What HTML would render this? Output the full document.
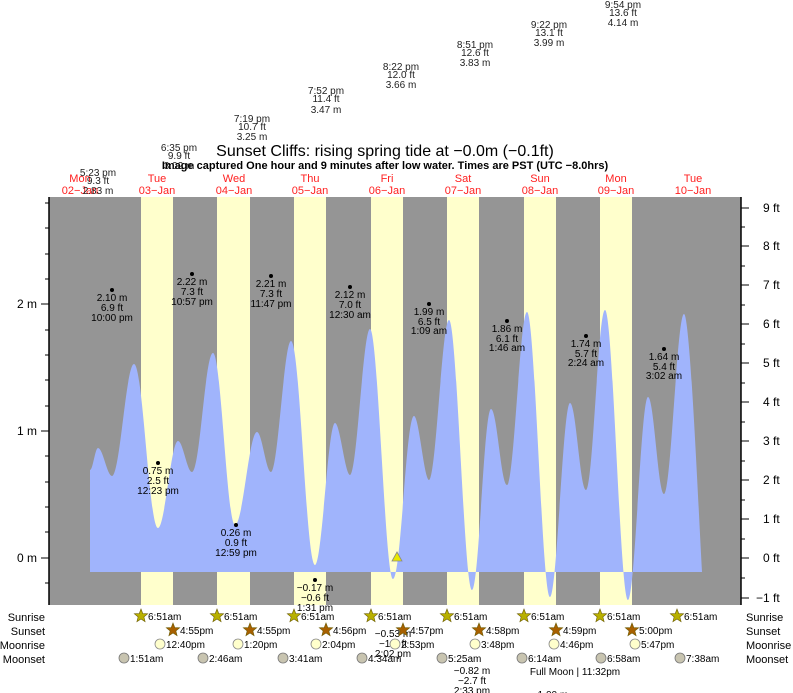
<!DOCTYPE html>
<html><head><meta charset="utf-8"><style>
body{margin:0;background:#fff}
svg{display:block;font-family:"Liberation Sans",sans-serif}
</style></head><body>
<svg width="793" height="693" viewBox="0 0 793 693">
<rect x="49" y="197" width="692" height="408" fill="#959595"/>
<g fill="#ffffcc">
<rect x="141" y="197" width="32" height="408"/><rect x="217" y="197" width="33" height="408"/>
<rect x="294" y="197" width="32" height="408"/><rect x="371" y="197" width="32" height="408"/>
<rect x="447" y="197" width="32" height="408"/><rect x="524" y="197" width="32" height="408"/>
<rect x="600" y="197" width="32" height="408"/>
</g>
<path fill="#a0b4fc" d="M90,470 C93,470 95,448 98,448 C103,448 107,476 112,476 C120,476 126,364 134,364 C143,364 149,528 158,528 C165,528 171,441 178,441 C183,441 187,472 192,472 C200,472 205,353 213,353 C221,353 227,525 235,525 C243,525 249,432 257,432 C262,432 266,472 271,472 C278,472 284,341 291,341 C300,341 306,565 315,565 C322,565 328,423 335,423 C340,423 345,475 350,475 C357,475 363,329 370,329 C378,329 385,579 393,579 C401,579 406,416 414,416 C419,416 424,480 429,480 C436,480 442,320 449,320 C457,320 464,590 472,590 C479,590 484,409 491,409 C497,409 501,485 507,485 C514,485 520,312 527,312 C535,312 542,597 550,597 C557,597 563,403 570,403 C576,403 580,490 586,490 C593,490 598,310 605,310 C613,310 620,600 628,600 C635,600 641,397 648,397 C654,397 658,494 664,494 C671,494 677,314 684,314 C690,314 698,500 702,572 L90,572 Z"/>
<g stroke="#000" stroke-width="1.5">
<line x1="49" y1="197" x2="49" y2="605"/><line x1="741" y1="197" x2="741" y2="605"/>
</g>
<g stroke="#000" stroke-width="1">
<line x1="41" y1="304" x2="49" y2="304"/><line x1="41" y1="431" x2="49" y2="431"/><line x1="41" y1="558" x2="49" y2="558"/>
<line x1="45" y1="583" x2="49" y2="583"/><line x1="45" y1="532" x2="49" y2="532"/><line x1="45" y1="507" x2="49" y2="507"/><line x1="45" y1="482" x2="49" y2="482"/><line x1="45" y1="456" x2="49" y2="456"/>
<line x1="45" y1="406" x2="49" y2="406"/><line x1="45" y1="380" x2="49" y2="380"/><line x1="45" y1="355" x2="49" y2="355"/><line x1="45" y1="330" x2="49" y2="330"/>
<line x1="45" y1="279" x2="49" y2="279"/><line x1="45" y1="254" x2="49" y2="254"/><line x1="45" y1="228" x2="49" y2="228"/><line x1="45" y1="203" x2="49" y2="203"/>
<line x1="741" y1="598" x2="749" y2="598"/><line x1="741" y1="558" x2="749" y2="558"/><line x1="741" y1="519" x2="749" y2="519"/><line x1="741" y1="480" x2="749" y2="480"/><line x1="741" y1="441" x2="749" y2="441"/><line x1="741" y1="402" x2="749" y2="402"/><line x1="741" y1="363" x2="749" y2="363"/><line x1="741" y1="324" x2="749" y2="324"/><line x1="741" y1="285" x2="749" y2="285"/><line x1="741" y1="246" x2="749" y2="246"/><line x1="741" y1="208" x2="749" y2="208"/>
<line x1="741" y1="578" x2="745" y2="578"/><line x1="741" y1="539" x2="745" y2="539"/><line x1="741" y1="500" x2="745" y2="500"/><line x1="741" y1="461" x2="745" y2="461"/><line x1="741" y1="422" x2="745" y2="422"/><line x1="741" y1="383" x2="745" y2="383"/><line x1="741" y1="344" x2="745" y2="344"/><line x1="741" y1="305" x2="745" y2="305"/><line x1="741" y1="266" x2="745" y2="266"/><line x1="741" y1="227" x2="745" y2="227"/>
</g>
<g font-size="12" text-anchor="end" fill="#000">
<text x="37" y="308">2 m</text><text x="37" y="435">1 m</text><text x="37" y="562">0 m</text>
</g>
<g font-size="12" fill="#000">
<text x="763" y="212">9 ft</text><text x="763" y="250">8 ft</text><text x="763" y="289">7 ft</text><text x="763" y="328">6 ft</text><text x="763" y="367">5 ft</text><text x="763" y="406">4 ft</text><text x="763" y="445">3 ft</text><text x="763" y="484">2 ft</text><text x="763" y="523">1 ft</text><text x="763" y="562">0 ft</text><text x="756" y="602">−1 ft</text>
</g>
<text x="385" y="156" font-size="16" text-anchor="middle">Sunset Cliffs: rising  spring tide at −0.0m (−0.1ft)</text>
<text x="385" y="169" font-size="11" font-weight="bold" text-anchor="middle">Image captured One hour and 9 minutes after low water. Times are PST (UTC −8.0hrs)</text>
<g font-size="11" fill="#ff2020" text-anchor="middle">
<text x="80" y="182">Mon</text><text x="80" y="194">02−Jan</text>
<text x="157" y="182">Tue</text><text x="157" y="194">03−Jan</text>
<text x="234" y="182">Wed</text><text x="234" y="194">04−Jan</text>
<text x="310" y="182">Thu</text><text x="310" y="194">05−Jan</text>
<text x="387" y="182">Fri</text><text x="387" y="194">06−Jan</text>
<text x="463" y="182">Sat</text><text x="463" y="194">07−Jan</text>
<text x="540" y="182">Sun</text><text x="540" y="194">08−Jan</text>
<text x="616" y="182">Mon</text><text x="616" y="194">09−Jan</text>
<text x="693" y="182">Tue</text><text x="693" y="194">10−Jan</text>
</g>
<g font-size="10" fill="#222" text-anchor="middle">
<text x="98" y="176">5:23 pm</text><text x="98" y="184">9.3 ft</text><text x="98" y="194">2.83 m</text>
<text x="179" y="151">6:35 pm</text><text x="179" y="159">9.9 ft</text><text x="179" y="169">3.02 m</text>
<text x="252" y="122">7:19 pm</text><text x="252" y="130">10.7 ft</text><text x="252" y="140">3.25 m</text>
<text x="326" y="94">7:52 pm</text><text x="326" y="102">11.4 ft</text><text x="326" y="113">3.47 m</text>
<text x="401" y="70">8:22 pm</text><text x="401" y="78">12.0 ft</text><text x="401" y="88">3.66 m</text>
<text x="475" y="48">8:51 pm</text><text x="475" y="56">12.6 ft</text><text x="475" y="66">3.83 m</text>
<text x="549" y="28">9:22 pm</text><text x="549" y="36">13.1 ft</text><text x="549" y="46">3.99 m</text>
<text x="623" y="8">9:54 pm</text><text x="623" y="16">13.6 ft</text><text x="623" y="26">4.14 m</text>
</g>
<g fill="#000"><circle cx="112" cy="290" r="2"/><circle cx="192" cy="274" r="2"/><circle cx="271" cy="276" r="2"/><circle cx="350" cy="287" r="2"/><circle cx="429" cy="304" r="2"/><circle cx="507" cy="321" r="2"/><circle cx="586" cy="336" r="2"/><circle cx="664" cy="349" r="2"/><circle cx="158" cy="463" r="2"/><circle cx="236" cy="525" r="2"/><circle cx="315" cy="580" r="2"/></g>
<g font-size="10" fill="#000" text-anchor="middle">
<text x="112" y="301">2.10 m</text><text x="112" y="311">6.9 ft</text><text x="112" y="321">10:00 pm</text>
<text x="192" y="285">2.22 m</text><text x="192" y="295">7.3 ft</text><text x="192" y="305">10:57 pm</text>
<text x="271" y="287">2.21 m</text><text x="271" y="297">7.3 ft</text><text x="271" y="307">11:47 pm</text>
<text x="350" y="298">2.12 m</text><text x="350" y="308">7.0 ft</text><text x="350" y="318">12:30 am</text>
<text x="429" y="315">1.99 m</text><text x="429" y="325">6.5 ft</text><text x="429" y="334">1:09 am</text>
<text x="507" y="332">1.86 m</text><text x="507" y="342">6.1 ft</text><text x="507" y="351">1:46 am</text>
<text x="586" y="347">1.74 m</text><text x="586" y="357">5.7 ft</text><text x="586" y="366">2:24 am</text>
<text x="664" y="360">1.64 m</text><text x="664" y="370">5.4 ft</text><text x="664" y="379">3:02 am</text>
<text x="158" y="474">0.75 m</text><text x="158" y="484">2.5 ft</text><text x="158" y="494">12:23 pm</text>
<text x="236" y="536">0.26 m</text><text x="236" y="546">0.9 ft</text><text x="236" y="556">12:59 pm</text>
<text x="315" y="591">−0.17 m</text><text x="315" y="601">−0.6 ft</text><text x="315" y="611">1:31 pm</text>
<text x="393" y="637">−0.53 m</text><text x="393" y="647">−1.7 ft</text><text x="393" y="657">2:02 pm</text>
<text x="472" y="674">−0.82 m</text><text x="472" y="684">−2.7 ft</text><text x="472" y="694">2:33 pm</text>
<text x="550" y="698">−1.00 m</text>
<text x="575" y="675">Full Moon | 11:32pm</text>
</g>
<polygon points="397,552 392,561 402,561" fill="#e8e800" stroke="#888" stroke-width="0.8"/>
<g font-size="11" fill="#000">
<g text-anchor="end"><text x="45" y="621">Sunrise</text><text x="45" y="635">Sunset</text><text x="45" y="649">Moonrise</text><text x="45" y="663">Moonset</text></g>
<text x="746" y="621">Sunrise</text><text x="746" y="635">Sunset</text><text x="746" y="649">Moonrise</text><text x="746" y="663">Moonset</text>
</g>
<defs>
<polygon id="st" points="0,-7 1.8,-2.4 6.7,-2.2 2.9,0.9 4.1,5.7 0,3 -4.1,5.7 -2.9,0.9 -6.7,-2.2 -1.8,-2.4" stroke="#6a5a00" stroke-width="0.6"/>
</defs>
<g fill="#b8b000">
<use href="#st" x="141" y="616"/><use href="#st" x="217" y="616"/><use href="#st" x="294" y="616"/><use href="#st" x="371" y="616"/><use href="#st" x="447" y="616"/><use href="#st" x="524" y="616"/><use href="#st" x="600" y="616"/><use href="#st" x="677" y="616"/>
</g>
<g fill="#a86000">
<use href="#st" x="173" y="630"/><use href="#st" x="250" y="630"/><use href="#st" x="326" y="630"/><use href="#st" x="403" y="630"/><use href="#st" x="479" y="630"/><use href="#st" x="556" y="630"/><use href="#st" x="632" y="630"/>
</g>
<g fill="#ffffcc" stroke="#888" stroke-width="0.8">
<circle cx="160" cy="644" r="5"/><circle cx="238" cy="644" r="5"/><circle cx="316" cy="644" r="5"/><circle cx="395" cy="644" r="5"/><circle cx="475" cy="644" r="5"/><circle cx="554" cy="644" r="5"/><circle cx="635" cy="644" r="5"/>
</g>
<g fill="#c8c4b0" stroke="#777" stroke-width="0.8">
<circle cx="124" cy="658" r="5"/><circle cx="203" cy="658" r="5"/><circle cx="283" cy="658" r="5"/><circle cx="362" cy="658" r="5"/><circle cx="442" cy="658" r="5"/><circle cx="522" cy="658" r="5"/><circle cx="601" cy="658" r="5"/><circle cx="680" cy="658" r="5"/>
</g>
<g font-size="10" fill="#000">
<text x="148" y="620">6:51am</text><text x="224" y="620">6:51am</text><text x="301" y="620">6:51am</text><text x="378" y="620">6:51am</text><text x="454" y="620">6:51am</text><text x="531" y="620">6:51am</text><text x="607" y="620">6:51am</text><text x="684" y="620">6:51am</text>
<text x="180" y="634">4:55pm</text><text x="257" y="634">4:55pm</text><text x="333" y="634">4:56pm</text><text x="410" y="634">4:57pm</text><text x="486" y="634">4:58pm</text><text x="563" y="634">4:59pm</text><text x="639" y="634">5:00pm</text>
<text x="166" y="648">12:40pm</text><text x="244" y="648">1:20pm</text><text x="322" y="648">2:04pm</text><text x="401" y="648">2:53pm</text><text x="481" y="648">3:48pm</text><text x="560" y="648">4:46pm</text><text x="641" y="648">5:47pm</text>
<text x="130" y="662">1:51am</text><text x="209" y="662">2:46am</text><text x="289" y="662">3:41am</text><text x="368" y="662">4:34am</text><text x="448" y="662">5:25am</text><text x="528" y="662">6:14am</text><text x="607" y="662">6:58am</text><text x="686" y="662">7:38am</text>
</g>
</svg>
</body></html>
